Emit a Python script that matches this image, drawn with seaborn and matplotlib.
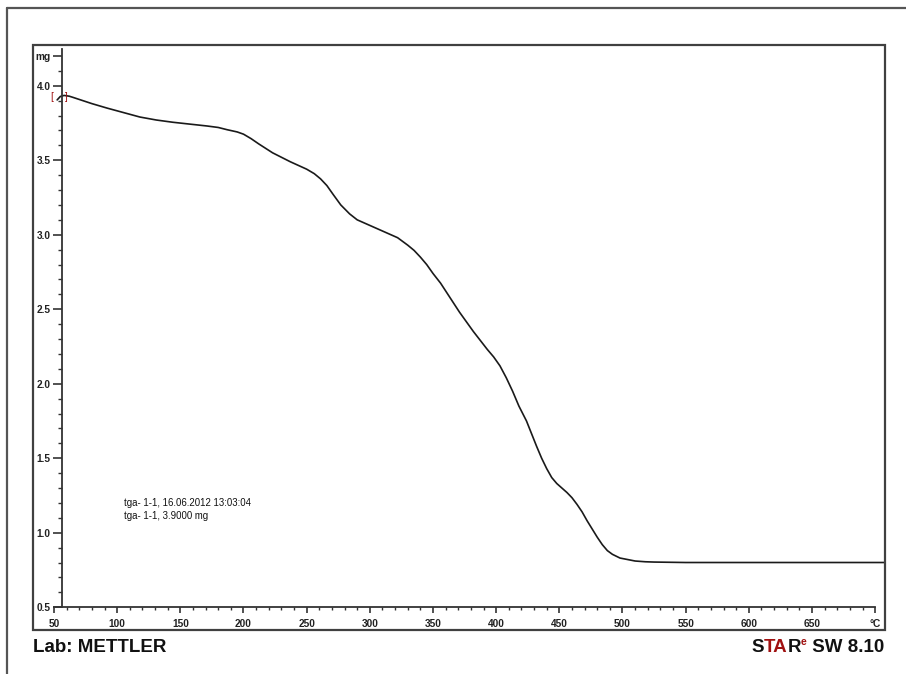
import numpy as np
import pandas as pd
import matplotlib
matplotlib.use("Agg")
import matplotlib.pyplot as plt
from matplotlib.ticker import FixedLocator, FixedFormatter
from matplotlib.patches import Rectangle
from matplotlib.lines import Line2D
import seaborn as sns

# ---- data ----
temperature_c = [52.5, 55, 58, 62, 65, 80, 92, 105, 118, 131, 144, 158, 171, 180,
                 187, 195, 200, 206, 212, 223, 237, 250, 256, 261, 266, 271, 277,
                 284, 290, 298, 306, 314, 322, 330, 335, 340, 345, 350, 356, 361,
                 371, 382, 393, 398, 403, 408, 413, 418, 424, 432, 436, 440, 444,
                 448, 452, 456, 460, 464, 468, 472, 476, 480, 484, 488, 492, 498,
                 504, 510, 518, 525, 550, 600, 650, 707]
mass_mg = [3.905, 3.928, 3.935, 3.93, 3.922, 3.88, 3.85, 3.82, 3.79, 3.77, 3.755,
           3.742, 3.73, 3.72, 3.705, 3.69, 3.675, 3.645, 3.61, 3.55, 3.49, 3.44,
           3.41, 3.375, 3.33, 3.27, 3.20, 3.14, 3.10, 3.07, 3.04, 3.01, 2.98, 2.93,
           2.895, 2.85, 2.80, 2.74, 2.675, 2.61, 2.48, 2.35, 2.23, 2.18, 2.12,
           2.04, 1.95, 1.85, 1.75, 1.58, 1.50, 1.43, 1.37, 1.33, 1.30, 1.27, 1.235,
           1.19, 1.14, 1.08, 1.025, 0.97, 0.92, 0.88, 0.855, 0.83, 0.82, 0.81,
           0.805, 0.803, 0.80, 0.80, 0.80, 0.80]

x_major = [50, 100, 150, 200, 250, 300, 350, 400, 450, 500, 550, 600, 650, 700]
x_labels = ["50", "100", "150", "200", "250", "300", "350", "400", "450", "500",
            "550", "600", "650", "°C"]
y_major = [0.5, 1.0, 1.5, 2.0, 2.5, 3.0, 3.5, 4.0, 4.2]
y_labels = ["0.5", "1.0", "1.5", "2.0", "2.5", "3.0", "3.5", "4.0", "mg"]

info_lines = ["tga- 1-1, 16.06.2012 13:03:04", "tga- 1-1, 3.9000 mg"]

df = pd.DataFrame({"T": temperature_c, "m": mass_mg})

sns.set_style("white")
plt.rcParams["font.family"] = ["Liberation Sans", "DejaVu Sans"]

W, H = 906, 674
fig = plt.figure(figsize=(W / 100, H / 100), dpi=100)

def fx(px):
    return px / W

def fy(py):
    return 1 - py / H

# axes: x 50 -> px 54, 707 -> px 884 ; y 0.5 -> py 607.2, 4.25 -> py 48.5
ax = fig.add_axes([fx(54), fy(607.2), fx(884) - fx(54), fy(48.5) - fy(607.2)])
ax.set_facecolor("none")
sns.lineplot(data=df, x="T", y="m", sort=False, estimator=None, color="#1a1a1a",
             linewidth=1.2, ax=ax)
ax.set_xlim(50, 707)
ax.set_ylim(0.5, 4.25)
ax.set_xlabel("")
ax.set_ylabel("")

axis_col = "#333333"
for s in ["top", "right"]:
    ax.spines[s].set_visible(False)
ax.spines["left"].set_position(("data", 56))
ax.spines["left"].set_bounds(0.5, 4.25)
ax.spines["bottom"].set_bounds(50, 700)
for s in ["left", "bottom"]:
    ax.spines[s].set_color(axis_col)
    ax.spines[s].set_linewidth(1.3)

ax.xaxis.set_major_locator(FixedLocator(x_major))
ax.xaxis.set_major_formatter(FixedFormatter(x_labels))
ax.xaxis.set_minor_locator(FixedLocator([v for v in range(50, 701, 10) if v % 50]))
ax.yaxis.set_major_locator(FixedLocator(y_major))
ax.yaxis.set_major_formatter(FixedFormatter(y_labels))
y_minor = [round(0.5 + 0.1 * i, 1) for i in range(0, 38)]
ax.yaxis.set_minor_locator(FixedLocator([v for v in y_minor if v not in y_major]))

ax.tick_params(axis="x", which="both", bottom=True, top=False)
ax.tick_params(axis="y", which="both", left=True, right=False)
ax.tick_params(axis="x", which="major", direction="out", length=4.5, width=1.2,
               color=axis_col, pad=4, labelsize=7.3, labelcolor="#222222")
ax.tick_params(axis="x", which="minor", direction="out", length=2.3, width=1.0,
               color=axis_col)
ax.tick_params(axis="y", which="major", direction="out", length=6.5, width=1.2,
               color=axis_col, pad=1.5, labelsize=7.3, labelcolor="#222222")
ax.tick_params(axis="y", which="minor", direction="out", length=3, width=1.0,
               color=axis_col)
for lab in ax.get_xticklabels() + ax.get_yticklabels():
    lab.set_fontweight("bold")

# red evaluation brackets at the start of the curve
ax.text(48.4, 3.924, "[", color="#a01010", fontsize=7, ha="center", va="center",
        clip_on=False)
ax.text(59.5, 3.924, "]", color="#a01010", fontsize=7, ha="center", va="center",
        clip_on=False)

# info text
fig.text(fx(124), fy(503), info_lines[0], fontsize=6.9, color="#111111",
         ha="left", va="center")
fig.text(fx(124), fy(516), info_lines[1], fontsize=6.9, color="#111111",
         ha="left", va="center")

# inner frame
fig.add_artist(Rectangle((fx(33), fy(630)), fx(885) - fx(33), fy(45) - fy(630),
                         transform=fig.transFigure, fill=False,
                         edgecolor="#404040", linewidth=1.6))
# outer frame (top + left)
fig.add_artist(Line2D([fx(7), 1.0], [fy(8), fy(8)], transform=fig.transFigure,
                      color="#555555", linewidth=1.6))
fig.add_artist(Line2D([fx(7), fx(7)], [fy(8), 0.0], transform=fig.transFigure,
                      color="#555555", linewidth=1.6))

# footer texts
fig.text(fx(33), fy(648), "Lab: METTLER", fontsize=13.5, fontweight="bold",
         color="#111111", ha="left", va="center")

# STARe SW 8.10, right aligned at px 884
t_final = fig.text(fx(884), fy(648), " SW 8.10", fontsize=13.5, fontweight="bold",
                   color="#111111", ha="right", va="center")
fig.canvas.draw()
r = fig.canvas.get_renderer()

def left_of(txt):
    bb = txt.get_window_extent(renderer=r)
    return bb.x0 / W

t_e = fig.text(left_of(t_final), fy(642), "e", fontsize=7.5, fontweight="bold",
               color="#a01010", ha="right", va="center")
fig.canvas.draw()
t_r = fig.text(left_of(t_e), fy(648), "R", fontsize=13.5, fontweight="bold",
               color="#111111", ha="right", va="center")
fig.canvas.draw()
t_ta = fig.text(left_of(t_r), fy(648), "TA", fontsize=13.5, fontweight="bold",
                color="#a01010", ha="right", va="center")
fig.canvas.draw()
t_s = fig.text(left_of(t_ta), fy(648), "S", fontsize=13.5, fontweight="bold",
               color="#111111", ha="right", va="center")

fig.savefig("out.png", dpi=100)
